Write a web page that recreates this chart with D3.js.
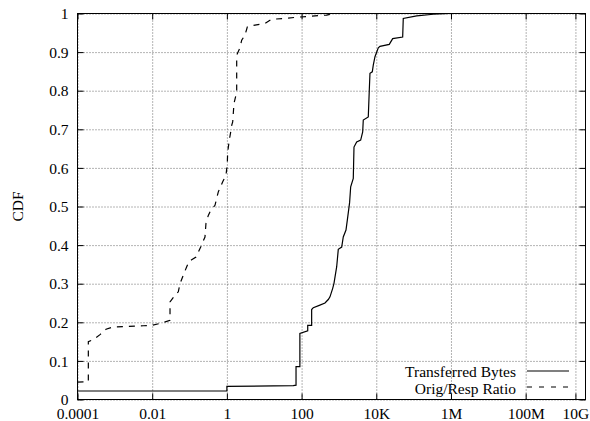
<!DOCTYPE html>
<html>
<head>
<meta charset="utf-8">
<script src="https://cdn.jsdelivr.net/npm/d3@7"></script>
<style>
  html, body { margin: 0; padding: 0; background: #fff; }
  svg { display: block; }
  text { font-family: "Liberation Serif", "DejaVu Serif", serif; fill: #000; }
</style>
</head>
<body>
<svg id="chart" width="590" height="421"></svg>
<script>
// ---- Data ----
const xTickValues = [1e-4, 1e-2, 1, 100, 1e4, 1e6, 1e8, 2147483648];
const xTickLabels = ["0.0001", "0.01", "1", "100", "10K", "1M", "100M", "10G"];
const yTickValues = [0, 0.1, 0.2, 0.3, 0.4, 0.5, 0.6, 0.7, 0.8, 0.9, 1];
const yTickLabels = ["0", "0.1", "0.2", "0.3", "0.4", "0.5", "0.6", "0.7", "0.8", "0.9", "1"];
const xDomain = [1e-4, 4e9];
const yDomain = [0, 1];
const seriesNames = ["Transferred Bytes", "Orig/Resp Ratio"];

// Transferred Bytes CDF: [value, cdf]
const transferredBytes = [
  [0.0001, 0.022], [1, 0.022], [1, 0.034], [60, 0.036], [71, 0.037], [71, 0.085],
  [90, 0.085], [90, 0.171], [146, 0.178], [146, 0.192], [186, 0.192], [186, 0.233],
  [206, 0.238], [298, 0.244], [423, 0.250], [519, 0.259], [576, 0.266], [681, 0.288],
  [737, 0.301], [871, 0.344], [961, 0.389], [1186, 0.395], [1307, 0.421], [1545, 0.439],
  [1674, 0.464], [1930, 0.510], [2064, 0.551], [2423, 0.573], [2531, 0.654], [2987, 0.667],
  [3822, 0.672], [4324, 0.693], [4488, 0.724], [6107, 0.732], [6497, 0.801], [6780, 0.845],
  [7817, 0.849], [8310, 0.866], [9230, 0.888], [11320, 0.911], [12560, 0.915], [22280, 0.920],
  [27480, 0.935], [50900, 0.939], [52800, 0.987], [120700, 0.994], [336000, 0.998],
  [940000, 1.0], [4e9, 1.0]
];

// Orig/Resp Ratio CDF: [value, cdf]
const origRespRatio = [
  [0.0001, 0.045], [1.95e-4, 0.046], [1.95e-4, 0.150], [2.65e-4, 0.155], [4.0e-4, 0.168],
  [5.8e-4, 0.182], [9.1e-4, 0.188], [5.8e-3, 0.191], [9.7e-3, 0.192], [0.018, 0.198],
  [0.030, 0.205], [0.030, 0.253], [0.0407, 0.270], [0.050, 0.279], [0.0555, 0.300],
  [0.068, 0.322], [0.084, 0.344], [0.098, 0.358], [0.114, 0.362], [0.149, 0.369],
  [0.199, 0.395], [0.259, 0.421], [0.275, 0.456], [0.318, 0.477], [0.368, 0.490],
  [0.480, 0.503], [0.589, 0.538], [0.773, 0.564], [0.946, 0.581], [1.025, 0.611],
  [1.05, 0.641], [1.16, 0.672], [1.29, 0.698], [1.35, 0.711], [1.43, 0.719], [1.55, 0.767],
  [1.83, 0.797], [1.83, 0.892], [1.90, 0.896], [2.24, 0.911], [2.49, 0.931], [3.05, 0.944],
  [3.52, 0.965], [5.65, 0.970], [10.5, 0.974], [15.8, 0.985], [32, 0.987], [91, 0.991],
  [470, 0.996], [706, 1.0], [4e9, 1.0]
];

// ---- Layout ----
const mLeft = 77.5, mRight = 585.5, mTop = 13.5, mBottom = 399.5;
const W = mRight - mLeft, H = mBottom - mTop;
const fontSize = 15.5;

const svg = d3.select("#chart");
const x = d3.scaleLog().domain(xDomain).range([mLeft, mRight]);
const y = d3.scaleLinear().domain(yDomain).range([mBottom, mTop]);

// Grid (dotted)
const gridX = svg.append("g").attr("transform", `translate(0,${mBottom})`)
  .call(d3.axisBottom(x).tickValues(xTickValues).tickSize(-H).tickFormat(""));
const gridY = svg.append("g").attr("transform", `translate(${mLeft},0)`)
  .call(d3.axisLeft(y).tickValues(yTickValues).tickSize(-W).tickFormat(""));
[gridX, gridY].forEach(g => {
  g.select(".domain").remove();
  g.selectAll("line").attr("stroke", "#444").attr("stroke-width", 0.8)
    .attr("stroke-dasharray", "1,2");
});

// Axes with inward ticks (mirrored)
const fmtX = (d, i) => xTickLabels[i];
const fmtY = (d, i) => yTickLabels[i];
const axB = svg.append("g").attr("transform", `translate(0,${mBottom})`)
  .call(d3.axisBottom(x).tickValues(xTickValues).tickSizeInner(-6).tickSizeOuter(0).tickFormat(fmtX));
const axT = svg.append("g").attr("transform", `translate(0,${mTop})`)
  .call(d3.axisTop(x).tickValues(xTickValues).tickSizeInner(-6).tickSizeOuter(0).tickFormat(""));
const axL = svg.append("g").attr("transform", `translate(${mLeft},0)`)
  .call(d3.axisLeft(y).tickValues(yTickValues).tickSizeInner(-6).tickSizeOuter(0).tickFormat(fmtY));
const axR = svg.append("g").attr("transform", `translate(${mRight},0)`)
  .call(d3.axisRight(y).tickValues(yTickValues).tickSizeInner(-6).tickSizeOuter(0).tickFormat(""));
[axB, axT, axL, axR].forEach(g => {
  g.select(".domain").remove();
  g.selectAll("line").attr("stroke", "#000").attr("stroke-width", 1);
  g.selectAll("text").attr("font-family", "Liberation Serif, serif").attr("font-size", fontSize).attr("fill", "#000");
});
axB.selectAll("text").attr("dy", "0").attr("y", 19);
axL.selectAll("text").attr("x", -9).attr("dy", "0.33em");

// Frame
svg.append("rect").attr("x", mLeft).attr("y", mTop).attr("width", W).attr("height", H)
  .attr("fill", "none").attr("stroke", "#000").attr("stroke-width", 1);

// Lines
const line = d3.line().x(d => x(d[0])).y(d => y(d[1]));
svg.append("path").datum(transferredBytes).attr("d", line)
  .attr("fill", "none").attr("stroke", "#000").attr("stroke-width", 1.2);
svg.append("path").datum(origRespRatio).attr("d", line)
  .attr("fill", "none").attr("stroke", "#000").attr("stroke-width", 1.2)
  .attr("stroke-dasharray", "6,6");

// Y label
svg.append("text").attr("transform", "translate(23,206.5) rotate(-90)")
  .attr("text-anchor", "middle").attr("font-size", fontSize).text("CDF");

// Legend
const legend = svg.append("g");
const legendY = [377, 394];
const sampleY = [371, 387];
seriesNames.forEach((name, i) => {
  legend.append("text").attr("x", 516).attr("y", legendY[i]).attr("text-anchor", "end")
    .attr("font-size", fontSize).text(name);
  const l = legend.append("line").attr("x1", 527).attr("x2", 569)
    .attr("y1", sampleY[i]).attr("y2", sampleY[i])
    .attr("stroke", "#000").attr("stroke-width", 1.2);
  if (i === 1) l.attr("stroke-dasharray", "5,7");
});
</script>
</body>
</html>
